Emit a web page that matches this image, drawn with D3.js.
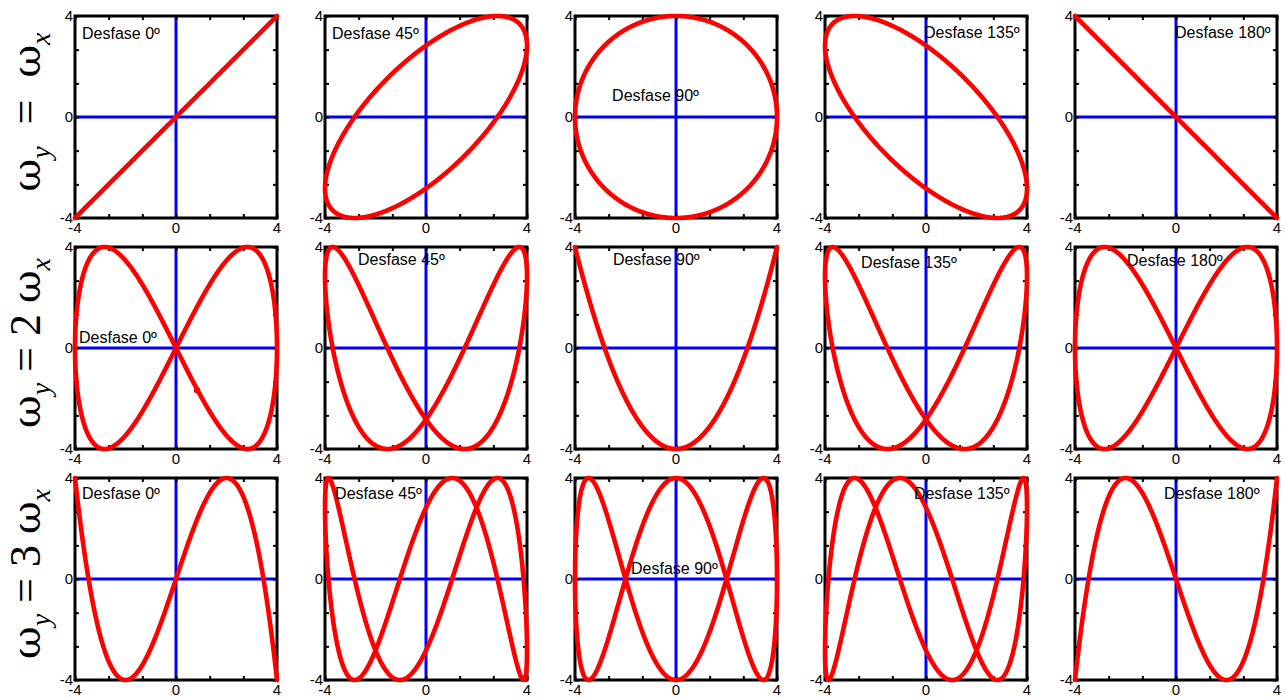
<!DOCTYPE html>
<html>
<head>
<meta charset="utf-8">
<script src="https://cdn.jsdelivr.net/npm/d3@7"></script>
<style>
  body { margin: 0; background: #fff; }
  svg { display: block; }
</style>
</head>
<body>
<svg id="chart" width="1285" height="699"></svg>
<script>
// Lissajous figures: x = A·sin(t), y = A·sin(n·t − φ)
const freqRatios = [1, 2, 3];                 // n = ωy / ωx, one per row
const phaseDegrees = [0, 45, 90, 135, 180];   // φ, one per column
const amplitude = 4;
const axisDomain = [-4, 4];
const tickValues = [-4, -8 / 3, -4 / 3, 0, 4 / 3, 8 / 3, 4];
const labeledTicks = [-4, 0, 4];
const rowMultipliers = ["", "2 ", "3 "];      // text before ωx in each row label

// where each "Desfase" note sits, in axis units [x, y] (rows × columns)
const noteAnchors = [
  [[-3.72, 3.09], [-3.72, 3.09], [-2.53, 0.63], [-0.08, 3.13], [-0.04, 3.13]],
  [[-3.84, 0.20], [-2.69, 3.29], [-2.50, 3.27], [-2.57, 3.17], [-1.94, 3.25]],
  [[-3.72, 3.17], [-3.60, 3.17], [-1.78, 0.20], [-0.48, 3.17], [-0.48, 3.17]]
];
// a single highlighted sample on the 2:1, 0° curve
const markedPoints = [{ row: 1, col: 0, x: 0.83, y: -1.66 }];

const svg = d3.select("#chart");
const panelSize = 202;
const colLeft = c => 75 + 250 * c;
const rowTop = r => 16 + 231 * r;
const samples = 1200;
const sans = "Liberation Sans, Arial, sans-serif";

const x = d3.scaleLinear().domain(axisDomain).range([0, panelSize]);
const y = d3.scaleLinear().domain(axisDomain).range([panelSize, 0]);
const line = d3.line().x(d => x(d[0])).y(d => y(d[1]));

freqRatios.forEach((n, r) => {
  phaseDegrees.forEach((phi, c) => {
    const g = svg.append("g").attr("transform", `translate(${colLeft(c)},${rowTop(r)})`);
    const phiRad = phi * Math.PI / 180;
    const pts = d3.range(samples + 1).map(i => {
      const t = 2 * Math.PI * i / samples;
      return [amplitude * Math.sin(t), amplitude * Math.sin(n * t - phiRad)];
    });

    // blue coordinate axes through the origin
    g.append("line").attr("x1", x(-4)).attr("x2", x(4)).attr("y1", y(0)).attr("y2", y(0))
      .attr("stroke", "#0000ff").attr("stroke-width", 3);
    g.append("line").attr("x1", x(0)).attr("x2", x(0)).attr("y1", y(-4)).attr("y2", y(4))
      .attr("stroke", "#0000ff").attr("stroke-width", 3);

    // box axes with inward ticks on every side
    const axes = [
      d3.axisBottom(x), d3.axisTop(x), d3.axisLeft(y), d3.axisRight(y)
    ].map(ax => ax.tickValues(tickValues).tickSizeInner(-4).tickSizeOuter(0).tickFormat(""));
    const offsets = [[0, panelSize], [0, 0], [0, 0], [panelSize, 0]];
    axes.forEach((ax, i) => {
      const a = g.append("g").attr("transform", `translate(${offsets[i][0]},${offsets[i][1]})`).call(ax);
      a.selectAll("line").attr("stroke", "#000").attr("stroke-width", 2);
      a.select(".domain").remove();
    });
    g.append("rect").attr("x", 0).attr("y", 0).attr("width", panelSize).attr("height", panelSize)
      .attr("fill", "none").attr("stroke", "#000").attr("stroke-width", 3);

    // tick labels
    g.selectAll(".xl").data(labeledTicks).join("text")
      .attr("x", d => x(d)).attr("y", panelSize + 15)
      .attr("text-anchor", "middle")
      .attr("font-family", sans).attr("font-size", 15)
      .text(d => d);
    g.selectAll(".yl").data(labeledTicks).join("text")
      .attr("x", -2).attr("y", d => y(d) + 5)
      .attr("text-anchor", "end")
      .attr("font-family", sans).attr("font-size", 15)
      .text(d => d);

    // the curve
    g.append("path").datum(pts).attr("d", line)
      .attr("fill", "none").attr("stroke", "#ff0000").attr("stroke-width", 4.6)
      .attr("stroke-linejoin", "round").attr("stroke-linecap", "round");

    markedPoints.filter(p => p.row === r && p.col === c).forEach(p => {
      g.append("circle").attr("cx", x(p.x)).attr("cy", y(p.y)).attr("r", 3.2).attr("fill", "#ff0000");
    });

    const a = noteAnchors[r][c];
    g.append("text").attr("x", x(a[0])).attr("y", y(a[1]))
      .attr("font-family", sans).attr("font-size", 16)
      .attr("fill", "#000")
      .text(`Desfase ${phi}º`);
  });

  // row label: ωy = n ωx, written bottom-to-top
  const cy = rowTop(r) + panelSize / 2 - 5;
  const lbl = svg.append("text")
    .attr("transform", `translate(40,${cy}) rotate(-90)`)
    .attr("text-anchor", "middle")
    .attr("font-family", "Liberation Serif, Times New Roman, serif")
    .attr("font-size", 44).attr("fill", "#000");
  const omega = () => lbl.append("tspan").attr("font-family", "DejaVu Serif, serif").attr("font-size", 40).text("ω");
  omega();
  lbl.append("tspan").attr("font-size", 28).attr("font-style", "italic").attr("dy", 10).text("y");
  lbl.append("tspan").attr("dy", -10).text(r === 0 ? "\u2002=\u2002" : " = " + rowMultipliers[r]);
  omega();
  lbl.append("tspan").attr("font-size", 28).attr("font-style", "italic").attr("dy", 10).text("x");
});
</script>
</body>
</html>
